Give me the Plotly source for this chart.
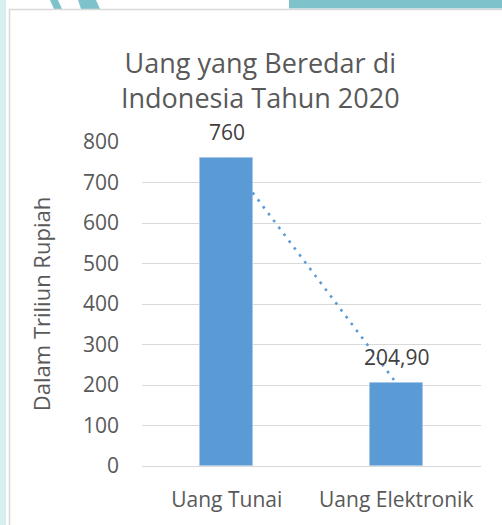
import plotly.graph_objects as go

categories = ['Uang Tunai', 'Uang Elektronik']
values = [760, 204.90]
value_labels = ['760', '204,90']
y_ticks = [0, 100, 200, 300, 400, 500, 600, 700, 800]

W, H = 502, 525
L, R, T, B = 142, 21, 142, 59
PW, PH = W - L - R, H - T - B


def px(x):
    return (x - L) / PW


def py(y):
    return (H - B - y) / PH


bar_color = '#5B9BD5'
font_name = 'Open Sans, Arial, sans-serif'

fig = go.Figure()

fig.add_trace(go.Bar(
    x=categories,
    y=values,
    marker=dict(color=bar_color, line=dict(color='#A9C8E8', width=1)),
    width=0.313,
    hoverinfo='x+y'
))

# linear trendline through both bars
fig.add_trace(go.Scatter(
    x=categories,
    y=values,
    mode='lines',
    line=dict(color=bar_color, width=2.6, dash='2.6px,6px'),
    hoverinfo='skip'
))

for cat, v, lab in zip(categories, values, value_labels):
    fig.add_annotation(
        x=cat, y=v, text=lab, showarrow=False,
        xanchor='center', yanchor='bottom', yshift=10,
        font=dict(family=font_name, size=21, color='#404040')
    )

fig.add_annotation(
    xref='paper', yref='paper', x=px(260), y=py(80),
    text='Uang yang Beredar di<br>Indonesia Tahun 2020',
    showarrow=False, xanchor='center', yanchor='middle', align='center',
    font=dict(family=font_name, size=27, color='#595959')
)

# background decorations and chart frame
shapes = [
    dict(type='rect', xref='paper', yref='paper',
         x0=px(0), x1=px(6), y0=py(530), y1=py(-5),
         fillcolor='#D6EFEF', line=dict(width=0), layer='below'),
    dict(type='rect', xref='paper', yref='paper',
         x0=px(289), x1=px(510), y0=py(8.5), y1=py(-5),
         fillcolor='#7EC3CB', line=dict(width=0), layer='below'),
    dict(type='path', xref='paper', yref='paper',
         path='M {} {} L {} {} L {} {} L {} {} Z'.format(
             px(50), py(0), px(58), py(0), px(62), py(9), px(54), py(9)),
         fillcolor='#7EC3CB', line=dict(width=0), layer='below'),
    dict(type='path', xref='paper', yref='paper',
         path='M {} {} L {} {} L {} {} L {} {} Z'.format(
             px(78), py(0), px(96), py(0), px(100), py(9), px(81), py(9)),
         fillcolor='#7EC3CB', line=dict(width=0), layer='below'),
    dict(type='rect', xref='paper', yref='paper',
         x0=px(9.5), x1=px(515), y0=py(540), y1=py(9.5),
         fillcolor='white', line=dict(color='#D9D9D9', width=1.5), layer='below'),
]

fig.update_layout(
    width=W, height=H,
    margin=dict(l=L, r=R, t=T, b=B, autoexpand=False),
    paper_bgcolor='white',
    plot_bgcolor='rgba(0,0,0,0)',
    showlegend=False,
    shapes=shapes,
    bargap=0,
    font=dict(family=font_name, color='#595959'),
    xaxis=dict(
        showgrid=False, showline=False, zeroline=False, automargin=False,
        ticks='', tickfont=dict(size=21, color='#595959'),
        ticklabelstandoff=19
    ),
    yaxis=dict(
        range=[0, 800], tickvals=y_ticks, automargin=False,
        showgrid=True, gridcolor='#D9D9D9', gridwidth=1.3,
        zeroline=True, zerolinecolor='#D9D9D9', zerolinewidth=1.3,
        showline=False, ticks='',
        tickfont=dict(size=21, color='#595959'),
        ticklabelstandoff=22,
        title=dict(text='Dalam Triliun Rupiah', standoff=26,
                   font=dict(size=22, color='#595959'))
    )
)

# drop the browser's default body margin so the figure sits at the page corner
fig.write_html('out.html', config={'displayModeBar': False},
               post_script="document.body.style.margin='0';")
